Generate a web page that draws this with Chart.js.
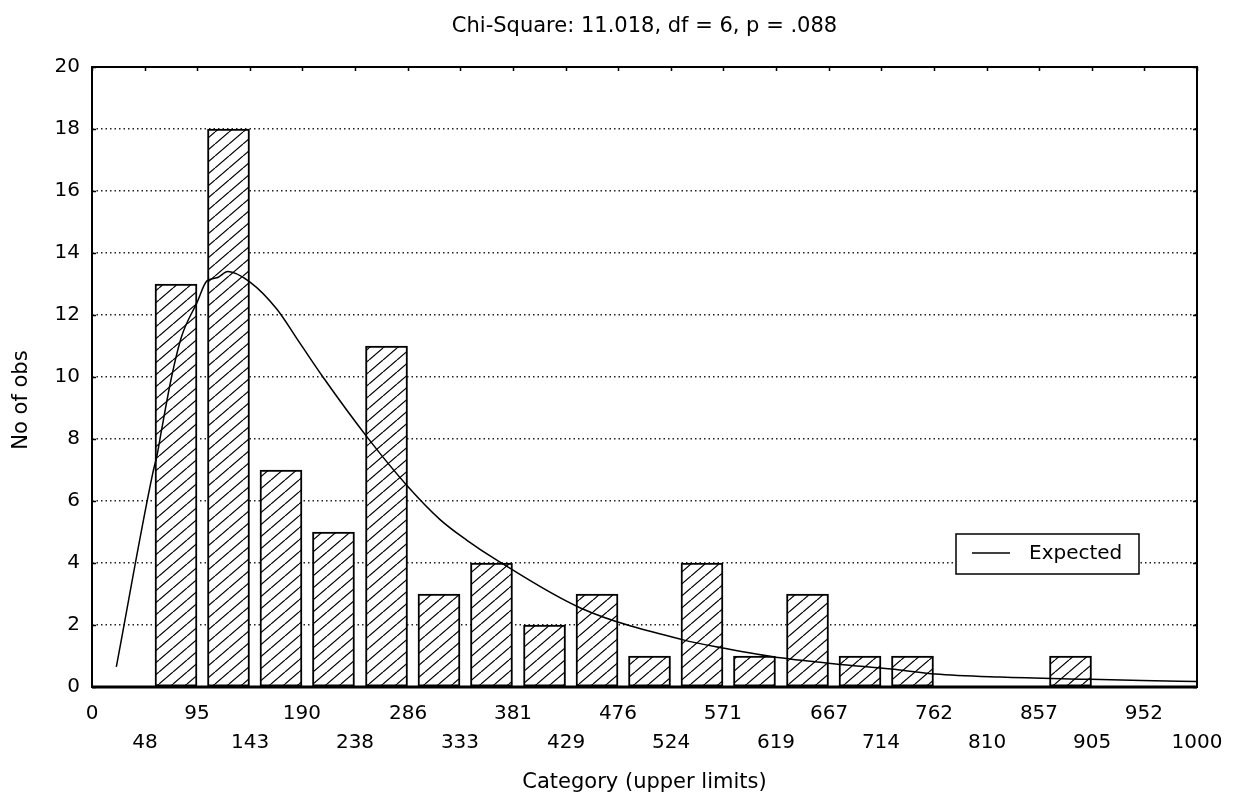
<!DOCTYPE html>
<html>
<head>
<meta charset="utf-8">
<script src="https://cdn.jsdelivr.net/npm/chart.js@4"></script>
<style>
  html, body { margin: 0; padding: 0; background: #fff; }
  #wrap { width: 1238px; height: 799px; }
</style>
</head>
<body>
<div id="wrap"><canvas id="chart"></canvas></div>
<script>
// bin upper limits, as printed under the axis
const binEdges = [0, 48, 95, 143, 190, 238, 286, 333, 381, 429, 476, 524, 571, 619, 667, 714, 762, 810, 857, 905, 952, 1000];
// observed counts per bin (21 bins)
const observed = [0, 13, 18, 7, 5, 11, 3, 4, 2, 3, 1, 4, 1, 3, 1, 1, 0, 0, 1, 0, 0];
// expected curve
const expectedX = [22, 55, 59, 63, 72, 81, 95, 104, 113, 123, 143, 167, 188, 209, 249, 285, 315, 339, 366, 442, 535, 571, 623, 683, 731, 763, 822, 900, 950, 1000];
const expectedY = [0.65, 6.9, 7.5, 8.3, 10.0, 11.3, 12.4, 13.1, 13.2, 13.4, 13.06, 12.2, 11.1, 10.0, 8.06, 6.5, 5.4, 4.74, 4.1, 2.55, 1.52, 1.26, 0.94, 0.71, 0.55, 0.42, 0.32, 0.25, 0.21, 0.18];
const yTicks = [0, 2, 4, 6, 8, 10, 12, 14, 16, 18, 20];

const chartTitle = 'Chi-Square: 11.018, df = 6, p = .088';
const xTitle = 'Category (upper limits)';
const yTitle = 'No of obs';
const FONT = 'DejaVu Sans';

const canvas = document.getElementById('chart');
const ctx = canvas.getContext('2d');

// diagonal hatch fill for the bars
function makeHatch() {
    const c = document.createElement('canvas');
    c.width = 14; c.height = 12;
    const g = c.getContext('2d');
    g.fillStyle = '#fff';
    g.fillRect(0, 0, 14, 12);
    g.strokeStyle = '#000';
    g.lineWidth = 1.2;
    g.beginPath();
    [-14, 0, 14].forEach(dx => { g.moveTo(dx, 12); g.lineTo(dx + 14, 0); });
    g.stroke();
    return ctx.createPattern(c, 'repeat');
}

// bars sit against the upper limit of each bin
const shiftBars = {
    id: 'shiftBars',
    beforeDatasetDraw(chart, args) {
        if (args.meta.type === 'bar') { chart.ctx.save(); chart.ctx.translate(5, 0); }
    },
    afterDatasetDraw(chart, args) {
        if (args.meta.type === 'bar') chart.ctx.restore();
    }
};

// frame, inner tick marks, titles and the boxed legend
const decor = {
    id: 'decor',
    afterDatasetsDraw(chart) {
        const c = chart.ctx;
        const a = chart.chartArea;
        const xs = chart.scales.x, ys = chart.scales.y;
        c.save();
        c.strokeStyle = '#000';
        c.lineWidth = 1.5;
        c.beginPath();
        yTicks.forEach(v => {
            const py = Math.round(ys.getPixelForValue(v)) + 0.5;
            c.moveTo(a.left, py); c.lineTo(a.left + 4, py);
            c.moveTo(a.right, py); c.lineTo(a.right - 4, py);
        });
        binEdges.forEach(v => {
            const px = Math.round(xs.getPixelForValue(v)) + 0.5;
            c.moveTo(px, a.top); c.lineTo(px, a.top + 4);
        });
        c.stroke();

        c.lineWidth = 2;
        c.strokeRect(a.left, a.top, a.right - a.left, a.bottom - a.top);
        c.lineWidth = 3;
        c.beginPath();
        c.moveTo(a.left, a.bottom); c.lineTo(a.right, a.bottom);
        c.stroke();

        // legend box
        const lx = a.right - 241, ly = a.bottom - 153;
        c.fillStyle = '#fff';
        c.fillRect(lx, ly, 183, 40);
        c.lineWidth = 1.5;
        c.strokeRect(lx, ly, 183, 40);
        c.beginPath();
        c.moveTo(lx + 16, ly + 19); c.lineTo(lx + 54, ly + 19);
        c.stroke();
        c.fillStyle = '#000';
        c.font = '20px "' + FONT + '"';
        c.textAlign = 'left';
        c.textBaseline = 'middle';
        c.fillText(chart.data.datasets[0].label, lx + 73, ly + 20);

        // chart title
        c.font = '21px "' + FONT + '"';
        c.textAlign = 'center';
        c.fillText(chartTitle, (a.left + a.right) / 2, 27);

        // y title
        c.translate(22, 400);
        c.rotate(-Math.PI / 2);
        c.fillText(yTitle, 0, 0);
        c.restore();
    }
};

new Chart(ctx, {
    data: {
        datasets: [
            {
                type: 'line',
                label: 'Expected',
                data: expectedX.map((x, i) => ({x: x, y: expectedY[i]})),
                borderColor: '#000',
                borderWidth: 1.5,
                pointRadius: 0,
                cubicInterpolationMode: 'monotone',
                fill: false,
                order: 0
            },
            {
                type: 'bar',
                label: 'Observed',
                data: observed.map((v, i) => ({x: (binEdges[i] + binEdges[i + 1]) / 2, y: v})),
                backgroundColor: makeHatch(),
                borderColor: '#000',
                borderWidth: 2,
                borderSkipped: false,
                barThickness: 42,
                order: 1
            }
        ]
    },
    options: {
        responsive: true,
        maintainAspectRatio: false,
        animation: false,
        layout: { padding: { top: 67, right: 41, left: 0, bottom: 0 } },
        plugins: {
            legend: { display: false },
            title: { display: false },
            tooltip: { enabled: false }
        },
        scales: {
            x: {
                type: 'linear',
                min: 0,
                max: 1000,
                offset: false,
                afterBuildTicks: s => { s.ticks = binEdges.map(v => ({value: v})); },
                afterFit: s => { s.height = 112; },
                grid: { display: false, drawTicks: false, offset: false },
                border: { display: false },
                ticks: {
                    autoSkip: false,
                    maxRotation: 0,
                    minRotation: 0,
                    padding: 12,
                    color: '#000',
                    font: { family: FONT, size: 20, lineHeight: 1.45 },
                    callback: (v, i) => i % 2 === 0 ? [String(binEdges[i]), ''] : ['', String(binEdges[i])]
                },
                title: {
                    display: true,
                    text: xTitle,
                    color: '#000',
                    font: { family: FONT, size: 21 },
                    padding: { top: 0, bottom: 4 }
                }
            },
            y: {
                min: 0,
                max: 20,
                afterBuildTicks: s => { s.ticks = yTicks.map(v => ({value: v})); },
                afterFit: s => { s.width = 92; },
                grid: {
                    drawTicks: false,
                    lineWidth: 1.5,
                    color: c => (c.tick && (c.tick.value === 0 || c.tick.value === 20)) ? 'rgba(0,0,0,0)' : '#222'
                },
                border: { display: false, dash: [1.5, 3] },
                ticks: {
                    padding: 12,
                    color: '#000',
                    font: { family: FONT, size: 20 }
                }
            }
        }
    },
    plugins: [shiftBars, decor]
});
</script>
</body>
</html>
